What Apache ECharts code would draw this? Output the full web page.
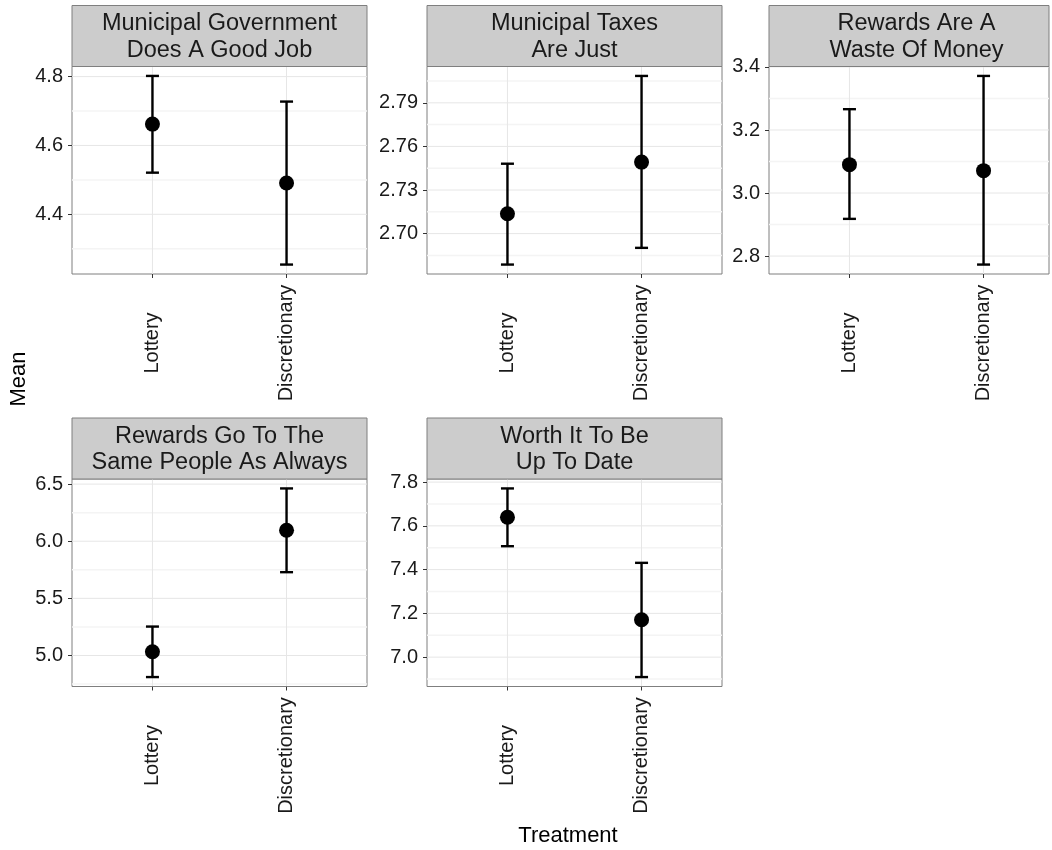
<!DOCTYPE html>
<html>
<head>
<meta charset="utf-8">
<title>Mean by Treatment</title>
<script src="https://cdn.jsdelivr.net/npm/echarts@6/dist/echarts.min.js"></script>
<style>
  html, body { margin: 0; padding: 0; background: #ffffff; }
  #chart { width: 1052px; height: 850px; }
</style>
</head>
<body>
<div id="chart"></div>
<script>
// Treatment groups on the x axis of every panel
const categories = ['Lottery', 'Discretionary'];

// One facet per survey statement
const panelTitles = [
  'Municipal Government\nDoes A Good Job',
  'Municipal Taxes\nAre Just',
  'Rewards Are A\nWaste Of Money',
  'Rewards Go To The\nSame People As Always',
  'Worth It To Be\nUp To Date'
];

// Mean response per treatment (Lottery, Discretionary)
const meanValues = [
  [4.662, 4.491],
  [2.7137, 2.7492],
  [3.090, 3.071],
  [5.032, 6.096],
  [7.639, 7.171]
];

// Lower and upper ends of the error bars
const lowerValues = [
  [4.521, 4.254],
  [2.6787, 2.6902],
  [2.918, 2.773],
  [4.811, 5.729],
  [7.507, 6.909]
];
const upperValues = [
  [4.802, 4.7275],
  [2.7481, 2.8085],
  [3.266, 3.3715],
  [5.253, 6.462],
  [7.771, 7.431]
];

// Labelled y ticks and the minor grid lines between them
const majorTicks = [
  [4.4, 4.6, 4.8],
  [2.70, 2.73, 2.76, 2.79],
  [2.8, 3.0, 3.2, 3.4],
  [5.0, 5.5, 6.0, 6.5],
  [7.0, 7.2, 7.4, 7.6, 7.8]
];
const minorTicks = [
  [4.3, 4.5, 4.7],
  [2.685, 2.715, 2.745, 2.775, 2.805],
  [2.9, 3.1, 3.3],
  [4.75, 5.25, 5.75, 6.25],
  [6.9, 7.1, 7.3, 7.5, 7.7]
];
const tickDecimals = [1, 2, 1, 1, 1];

// ---- layout ----
const FONT = '"Liberation Sans", Arial, Helvetica, sans-serif';
const panelLeft = [72, 427, 769, 72, 427];
const panelTop = [66.5, 66.5, 66.5, 479, 479];
const panelWidth = 295;              // full facet width
const shownWidth = [295, 295, 280, 295, 295]; // right-hand facet is cut at the page edge
const panelHeight = 207.5;
const stripHeight = 61;
const xPad = 0.6;                    // discrete-scale padding on each side

const grids = [], xAxes = [], yAxes = [], series = [], graphics = [];

function renderGridLines(params, api) {
  const cs = params.coordSys;
  const orient = api.value(0), v = api.value(1), minor = api.value(2);
  let shape;
  if (orient === 0) {
    const y = api.coord([1, v])[1];
    shape = { x1: cs.x, y1: y, x2: cs.x + cs.width, y2: y };
  } else {
    const x = api.coord([v, v])[0];
    shape = { x1: x, y1: cs.y, x2: x, y2: cs.y + cs.height };
  }
  return {
    type: 'line',
    shape: shape,
    style: minor
      ? { stroke: '#F4F4F4', lineWidth: 1.5 }
      : { stroke: '#E6E6E6', lineWidth: 1 }
  };
}

function renderErrorBar(params, api) {
  const x = api.value(0);
  const lo = api.coord([x, api.value(1)]);
  const hi = api.coord([x, api.value(2)]);
  const cap = 6.5;
  const style = { stroke: '#000000', lineWidth: 2.4 };
  return {
    type: 'group',
    children: [
      { type: 'line', shape: { x1: lo[0], y1: lo[1], x2: hi[0], y2: hi[1] }, style: style },
      { type: 'line', shape: { x1: lo[0] - cap, y1: lo[1], x2: lo[0] + cap, y2: lo[1] }, style: style },
      { type: 'line', shape: { x1: hi[0] - cap, y1: hi[1], x2: hi[0] + cap, y2: hi[1] }, style: style }
    ]
  };
}

panelTitles.forEach(function (title, i) {
  const lows = lowerValues[i], highs = upperValues[i];
  const dMin = Math.min.apply(null, lows), dMax = Math.max.apply(null, highs);
  const span = dMax - dMin;
  const yMin = dMin - 0.05 * span, yMax = dMax + 0.05 * span;
  const xMin = 1 - xPad;
  const xMax = xMin + (2 - 1 + 2 * xPad) * shownWidth[i] / panelWidth;

  grids.push({
    left: panelLeft[i], top: panelTop[i],
    width: shownWidth[i], height: panelHeight,
    show: true, backgroundColor: '#ffffff',
    borderColor: '#7F7F7F', borderWidth: 1
  });

  const tickPositions = categories.map(function (c, k) { return k + 1; });
  xAxes.push({
    type: 'value', gridIndex: i, min: xMin, max: xMax,
    axisLine: { show: false },
    splitLine: { show: false },
    axisTick: { show: true, customValues: tickPositions, length: 4, lineStyle: { color: '#333333', width: 1 } },
    axisLabel: {
      customValues: tickPositions,
      formatter: function (v) { return categories[Math.round(v) - 1]; },
      rotate: 90, align: 'center', verticalAlign: 'middle', margin: 69,
      fontSize: 20, fontFamily: FONT, color: '#1A1A1A'
    }
  });

  yAxes.push({
    type: 'value', gridIndex: i, min: yMin, max: yMax,
    axisLine: { show: false },
    splitLine: { show: false },
    axisTick: { show: true, customValues: majorTicks[i], length: 4, lineStyle: { color: '#333333', width: 1 } },
    axisLabel: {
      customValues: majorTicks[i],
      formatter: function (v) { return Number(v).toFixed(tickDecimals[i]); },
      margin: 9, fontSize: 20, fontFamily: FONT, color: '#1A1A1A'
    }
  });

  // background grid: minor rows, major rows, category columns
  const gridData = []
    .concat(minorTicks[i].map(function (v) { return [0, v, 1]; }))
    .concat(majorTicks[i].map(function (v) { return [0, v, 0]; }))
    .concat(tickPositions.map(function (v) { return [1, v, 0]; }));
  series.push({
    type: 'custom', xAxisIndex: i, yAxisIndex: i, silent: true, z: 1,
    renderItem: renderGridLines, data: gridData, clip: true
  });

  series.push({
    type: 'custom', xAxisIndex: i, yAxisIndex: i, silent: true, z: 2,
    renderItem: renderErrorBar,
    encode: { x: 0, y: [1, 2] },
    data: categories.map(function (c, k) { return [k + 1, lows[k], highs[k]]; })
  });

  series.push({
    type: 'scatter', xAxisIndex: i, yAxisIndex: i, silent: true, z: 3,
    symbol: 'circle', symbolSize: 15,
    itemStyle: { color: '#000000', opacity: 1 },
    data: categories.map(function (c, k) { return [k + 1, meanValues[i][k]]; })
  });

  // facet strip
  const stripTop = panelTop[i] - stripHeight;
  graphics.push({
    type: 'rect',
    shape: { x: panelLeft[i], y: stripTop, width: shownWidth[i], height: stripHeight },
    style: { fill: '#CCCCCC', stroke: '#7F7F7F', lineWidth: 1 },
    z: 10
  });
  graphics.push({
    type: 'text',
    x: panelLeft[i] + panelWidth / 2,
    y: stripTop + stripHeight / 2 + 1,
    style: {
      text: title, textAlign: 'center', textVerticalAlign: 'middle',
      fontSize: 23.5, lineHeight: 26.6, fontFamily: FONT, fill: '#1A1A1A'
    },
    z: 11
  });
});

// axis titles
graphics.push({
  type: 'text', x: 19, y: 379, rotation: Math.PI / 2,
  style: { text: 'Mean', textAlign: 'center', textVerticalAlign: 'middle', fontSize: 22, fontFamily: FONT, fill: '#000000' }
});
graphics.push({
  type: 'text', x: 568, y: 836,
  style: { text: 'Treatment', textAlign: 'center', textVerticalAlign: 'middle', fontSize: 22, fontFamily: FONT, fill: '#000000' }
});

const chart = echarts.init(document.getElementById('chart'), null, { renderer: 'canvas' });
chart.setOption({
  animation: false,
  backgroundColor: '#ffffff',
  grid: grids,
  xAxis: xAxes,
  yAxis: yAxes,
  series: series,
  graphic: graphics
});
</script>
</body>
</html>
